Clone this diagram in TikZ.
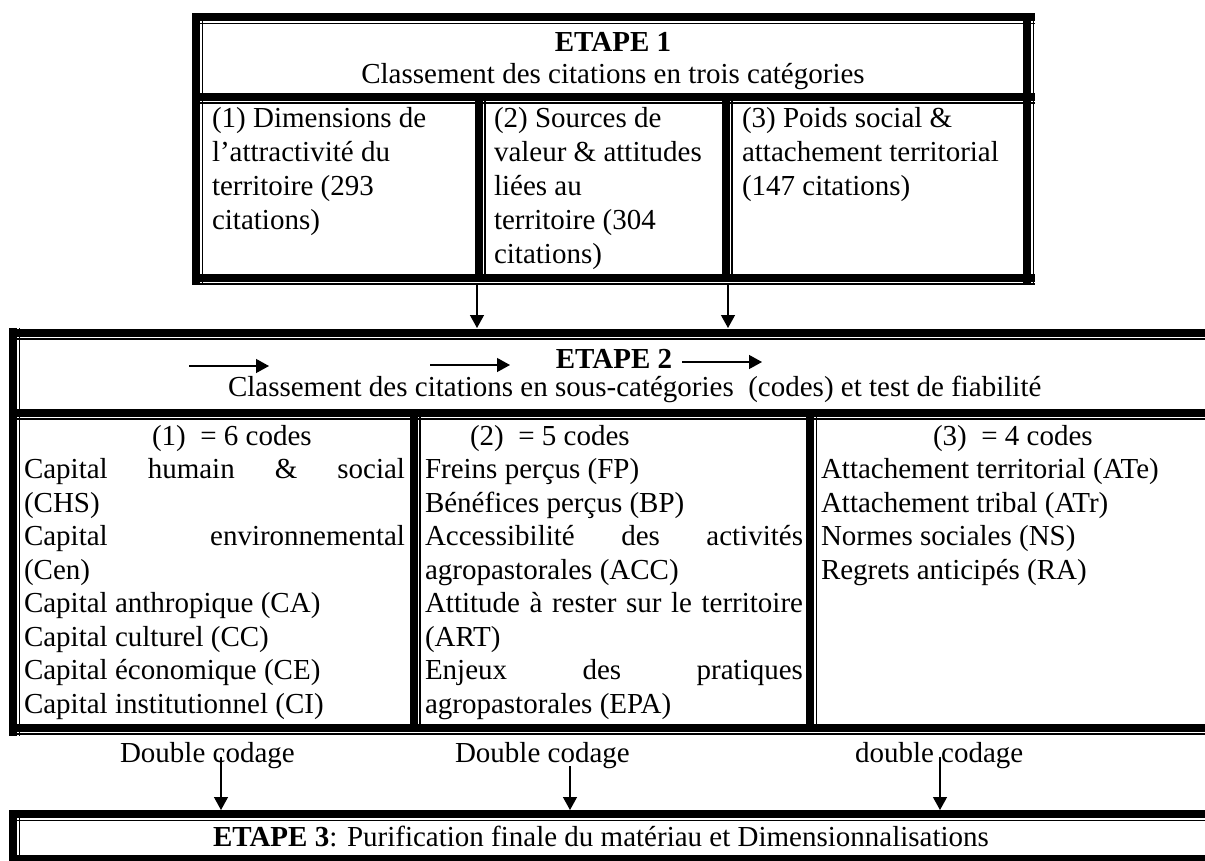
\documentclass[tikz,border=0pt]{standalone}
\usepackage{fontspec}
\setmainfont{Liberation Serif}
\usetikzlibrary{arrows.meta}
\tikzset{
  rulethick/.style={line width=8pt},
  rulethin/.style={line width=1.6pt},
  txt/.style={inner sep=0pt, outer sep=0pt, anchor=base west, font=\fontsize{29}{34}\selectfont},
  ctxt/.style={txt, anchor=base},
  flow/.style={line width=1.3pt, -{Triangle[width=14pt,length=13pt]}},
}
% horizontal double rule: y, x1, x2
\newcommand\hrul[3]{\draw[rulethin] (#2,{#1+6.5}) -- (#3,{#1+6.5}); \draw[rulethick] (#2,#1) -- (#3,#1);}
% vertical double rule: x, y1, y2
\newcommand\vrul[3]{\draw[rulethin] ({#1+6.5},#2) -- ({#1+6.5},#3); \draw[rulethick] (#1,#2) -- (#1,#3);}
\begin{document}
\begin{tikzpicture}[x=1pt,y=-1pt]
\useasboundingbox (0,0) rectangle (1205,860);
\fill[white] (0,0) rectangle (1205,860);
\clip (0,0) rectangle (1205,860);

% ---------- ETAPE 1 table ----------
\vrul{196}{13}{285}
\vrul{1027}{13}{285}
\vrul{478.5}{96.5}{282}
\vrul{725.5}{96.5}{282}
\hrul{17}{192}{1035}
\hrul{96.5}{192}{1035}
\hrul{277.5}{192}{1035}

\node[ctxt] (e1title) at (613,51) {\textbf{ETAPE 1}};
\node[ctxt] (e1sub) at (613,83) {Classement des citations en trois catégories};
\foreach \s [count=\i] in {(1) Dimensions de, l’attractivité du, territoire (293, citations)}
  \node[txt] (ca\i) at (212,{127+34*(\i-1)}) {\s};
\foreach \s [count=\i] in {(2) Sources de, valeur \& attitudes, liées au, territoire (304, citations)}
  \node[txt] (cb\i) at (494,{127+34*(\i-1)}) {\s};
\foreach \s [count=\i] in {(3) Poids social \&, attachement territorial, (147 citations)}
  \node[txt] (cc\i) at (742,{127+34*(\i-1)}) {\s};

% ---------- ETAPE 2 table ----------
\vrul{13}{328}{736}
\vrul{1220}{328}{736}
\vrul{413.5}{412.5}{731}
\vrul{810}{412.5}{731}
\hrul{332.5}{9}{1230}
\hrul{412.5}{9}{1230}
\hrul{727.5}{9}{1230}

\node[ctxt] (e2title) at (614,368) {\textbf{ETAPE 2}};
\node[txt] (e2sub) at (228,396) {Classement des citations en sous-catégories\ \ (codes) et test de fiabilité};

\coordinate (h1a) at (189,366); \coordinate (h1b) at (269,366);
\coordinate (h2a) at (430,365); \coordinate (h2b) at (510,365);
\coordinate (h3a) at (682,362); \coordinate (h3b) at (762,362);
\draw[flow] (h1a) -- (h1b);
\draw[flow] (h2a) -- (h2b);
\draw[flow] (h3a) -- (h3b);

% column 1
\node[txt] (m1h) at (152,445) {(1)\ \ = 6 codes};
\foreach \s [count=\i] in {\makebox[381pt][s]{Capital humain \& social}, (CHS), \makebox[381pt][s]{Capital environnemental}, (Cen), Capital anthropique (CA), Capital culturel (CC), Capital économique (CE), Capital institutionnel (CI)}
  \node[txt] (m1l\i) at (24,{445+33.5*\i}) {\s};
% column 2
\node[txt] (m2h) at (470,445) {(2)\ \ = 5 codes};
\foreach \s [count=\i] in {Freins perçus (FP), Bénéfices perçus (BP), \makebox[378pt][s]{Accessibilité des activités}, agropastorales (ACC), \makebox[378pt][s]{Attitude à rester sur le territoire}, (ART), \makebox[378pt][s]{Enjeux des pratiques}, agropastorales (EPA)}
  \node[txt] (m2l\i) at (425,{445+33.5*\i}) {\s};
% column 3
\node[txt] (m3h) at (933,445) {(3)\ \ = 4 codes};
\foreach \s [count=\i] in {Attachement territorial (ATe), Attachement tribal (ATr), Normes sociales (NS), Regrets anticipés (RA)}
  \node[txt] (m3l\i) at (821,{445+33.5*\i}) {\s};

% ---------- ETAPE 3 table ----------
\vrul{13}{810}{870}
\hrul{814}{9}{1230}
\hrul{859}{9}{1230}
\node[txt] (e3) at (213,846) {\textbf{ETAPE 3}: Purification finale du matériau et Dimensionnalisations};

% ---------- connectors ----------
\coordinate (a1s) at (477,285); \coordinate (a1e) at (477,328);
\coordinate (a2s) at (728,285); \coordinate (a2e) at (728,328);
\draw[flow] (a1s) -- (a1e);
\draw[flow] (a2s) -- (a2e);

\node[txt] (dc1) at (120,762) {Double codage};
\node[txt] (dc2) at (455,762) {Double codage};
\node[txt] (dc3) at (855,762) {double codage};
\coordinate (d1s) at (221,757); \coordinate (d1e) at (221,810);
\coordinate (d2s) at (570,766); \coordinate (d2e) at (570,810);
\coordinate (d3s) at (940,757); \coordinate (d3e) at (940,810);
\draw[flow] (d1s) -- (d1e);
\draw[flow] (d2s) -- (d2e);
\draw[flow] (d3s) -- (d3e);
\end{tikzpicture}
\end{document}
